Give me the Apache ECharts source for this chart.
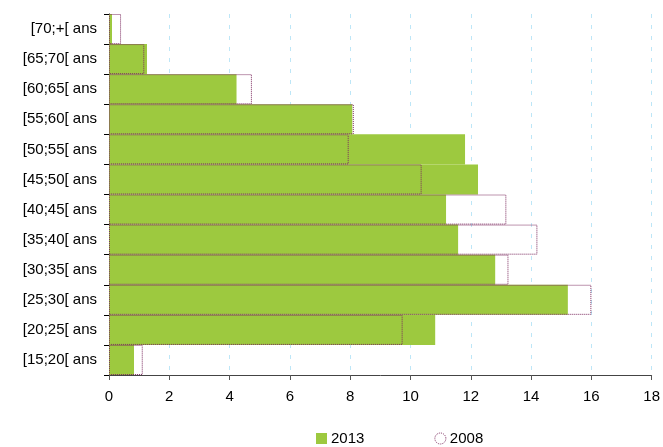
<!DOCTYPE html>
<html><head><meta charset="utf-8">
<script src="https://cdn.jsdelivr.net/npm/echarts@6/dist/echarts.min.js"></script>
<style>html,body{margin:0;padding:0;background:#fff}#c{width:663px;height:447px}</style>
</head><body><div id="c"></div>
<script>
const categories = ['[15;20[ ans','[20;25[ ans','[25;30[ ans','[30;35[ ans','[35;40[ ans','[40;45[ ans','[45;50[ ans','[50;55[ ans','[55;60[ ans','[60;65[ ans','[65;70[ ans','[70;+[ ans'];
const values2013 = [0.83, 10.82, 15.22, 12.81, 11.58, 11.18, 12.24, 11.81, 8.07, 4.23, 1.26, 0.1];
const values2008 = [1.12, 9.74, 16.0, 13.25, 14.21, 13.18, 10.37, 7.95, 8.12, 4.74, 1.17, 0.4];
const xTicks = [0, 2, 4, 6, 8, 10, 12, 14, 16, 18];

const FONT = 'Liberation Sans, Arial, sans-serif';
const chart = echarts.init(document.getElementById('c'), null, {renderer: 'canvas'});
chart.setOption({
  animation: false,
  textStyle: {fontFamily: FONT},
  grid: {left: 109, right: 10, top: 14, bottom: 72},
  legend: {
    top: 426, left: 311, itemGap: 70, itemWidth: 11, itemHeight: 11,
    textStyle: {fontSize: 15, color: '#000', fontFamily: FONT, padding: [0, 0, 0, -1]},
    data: [
      {name: '2013', icon: 'rect', itemStyle: {color: '#9dc93f'}},
      {name: '2008', icon: 'circle', itemStyle: {color: 'rgba(0,0,0,0)', borderColor: '#7b2a5e', borderWidth: 1, borderType: 'dotted'}}
    ]
  },
  xAxis: {
    type: 'value', min: xTicks[0], max: xTicks[xTicks.length - 1], interval: 2,
    axisLine: {show: true, lineStyle: {color: '#444', width: 1}},
    axisTick: {show: true, length: 5, lineStyle: {color: '#555'}},
    axisLabel: {fontSize: 15, color: '#000', margin: 14, fontFamily: FONT},
    splitLine: {show: true, lineStyle: {color: '#bde6f7', type: [4, 7], width: 1}}
  },
  yAxis: {
    type: 'category', data: categories,
    axisLine: {show: true, lineStyle: {color: '#000', width: 1}},
    axisTick: {show: true, length: 5, alignWithLabel: false, lineStyle: {color: '#000'}},
    axisLabel: {fontSize: 15, color: '#000', margin: 12, fontFamily: FONT},
    splitLine: {show: false}
  },
  series: [
    {name: '2013', type: 'bar', data: values2013, barCategoryGap: 0, barGap: '-100%',
     itemStyle: {color: '#9dc93f'}},
    {name: '2008', type: 'bar', data: values2008, barCategoryGap: 0, barGap: '-100%',
     itemStyle: {color: 'rgba(0,0,0,0)', borderColor: '#7b2a5e', borderWidth: 1, borderType: 'dotted'}}
  ]
});
</script></body></html>
